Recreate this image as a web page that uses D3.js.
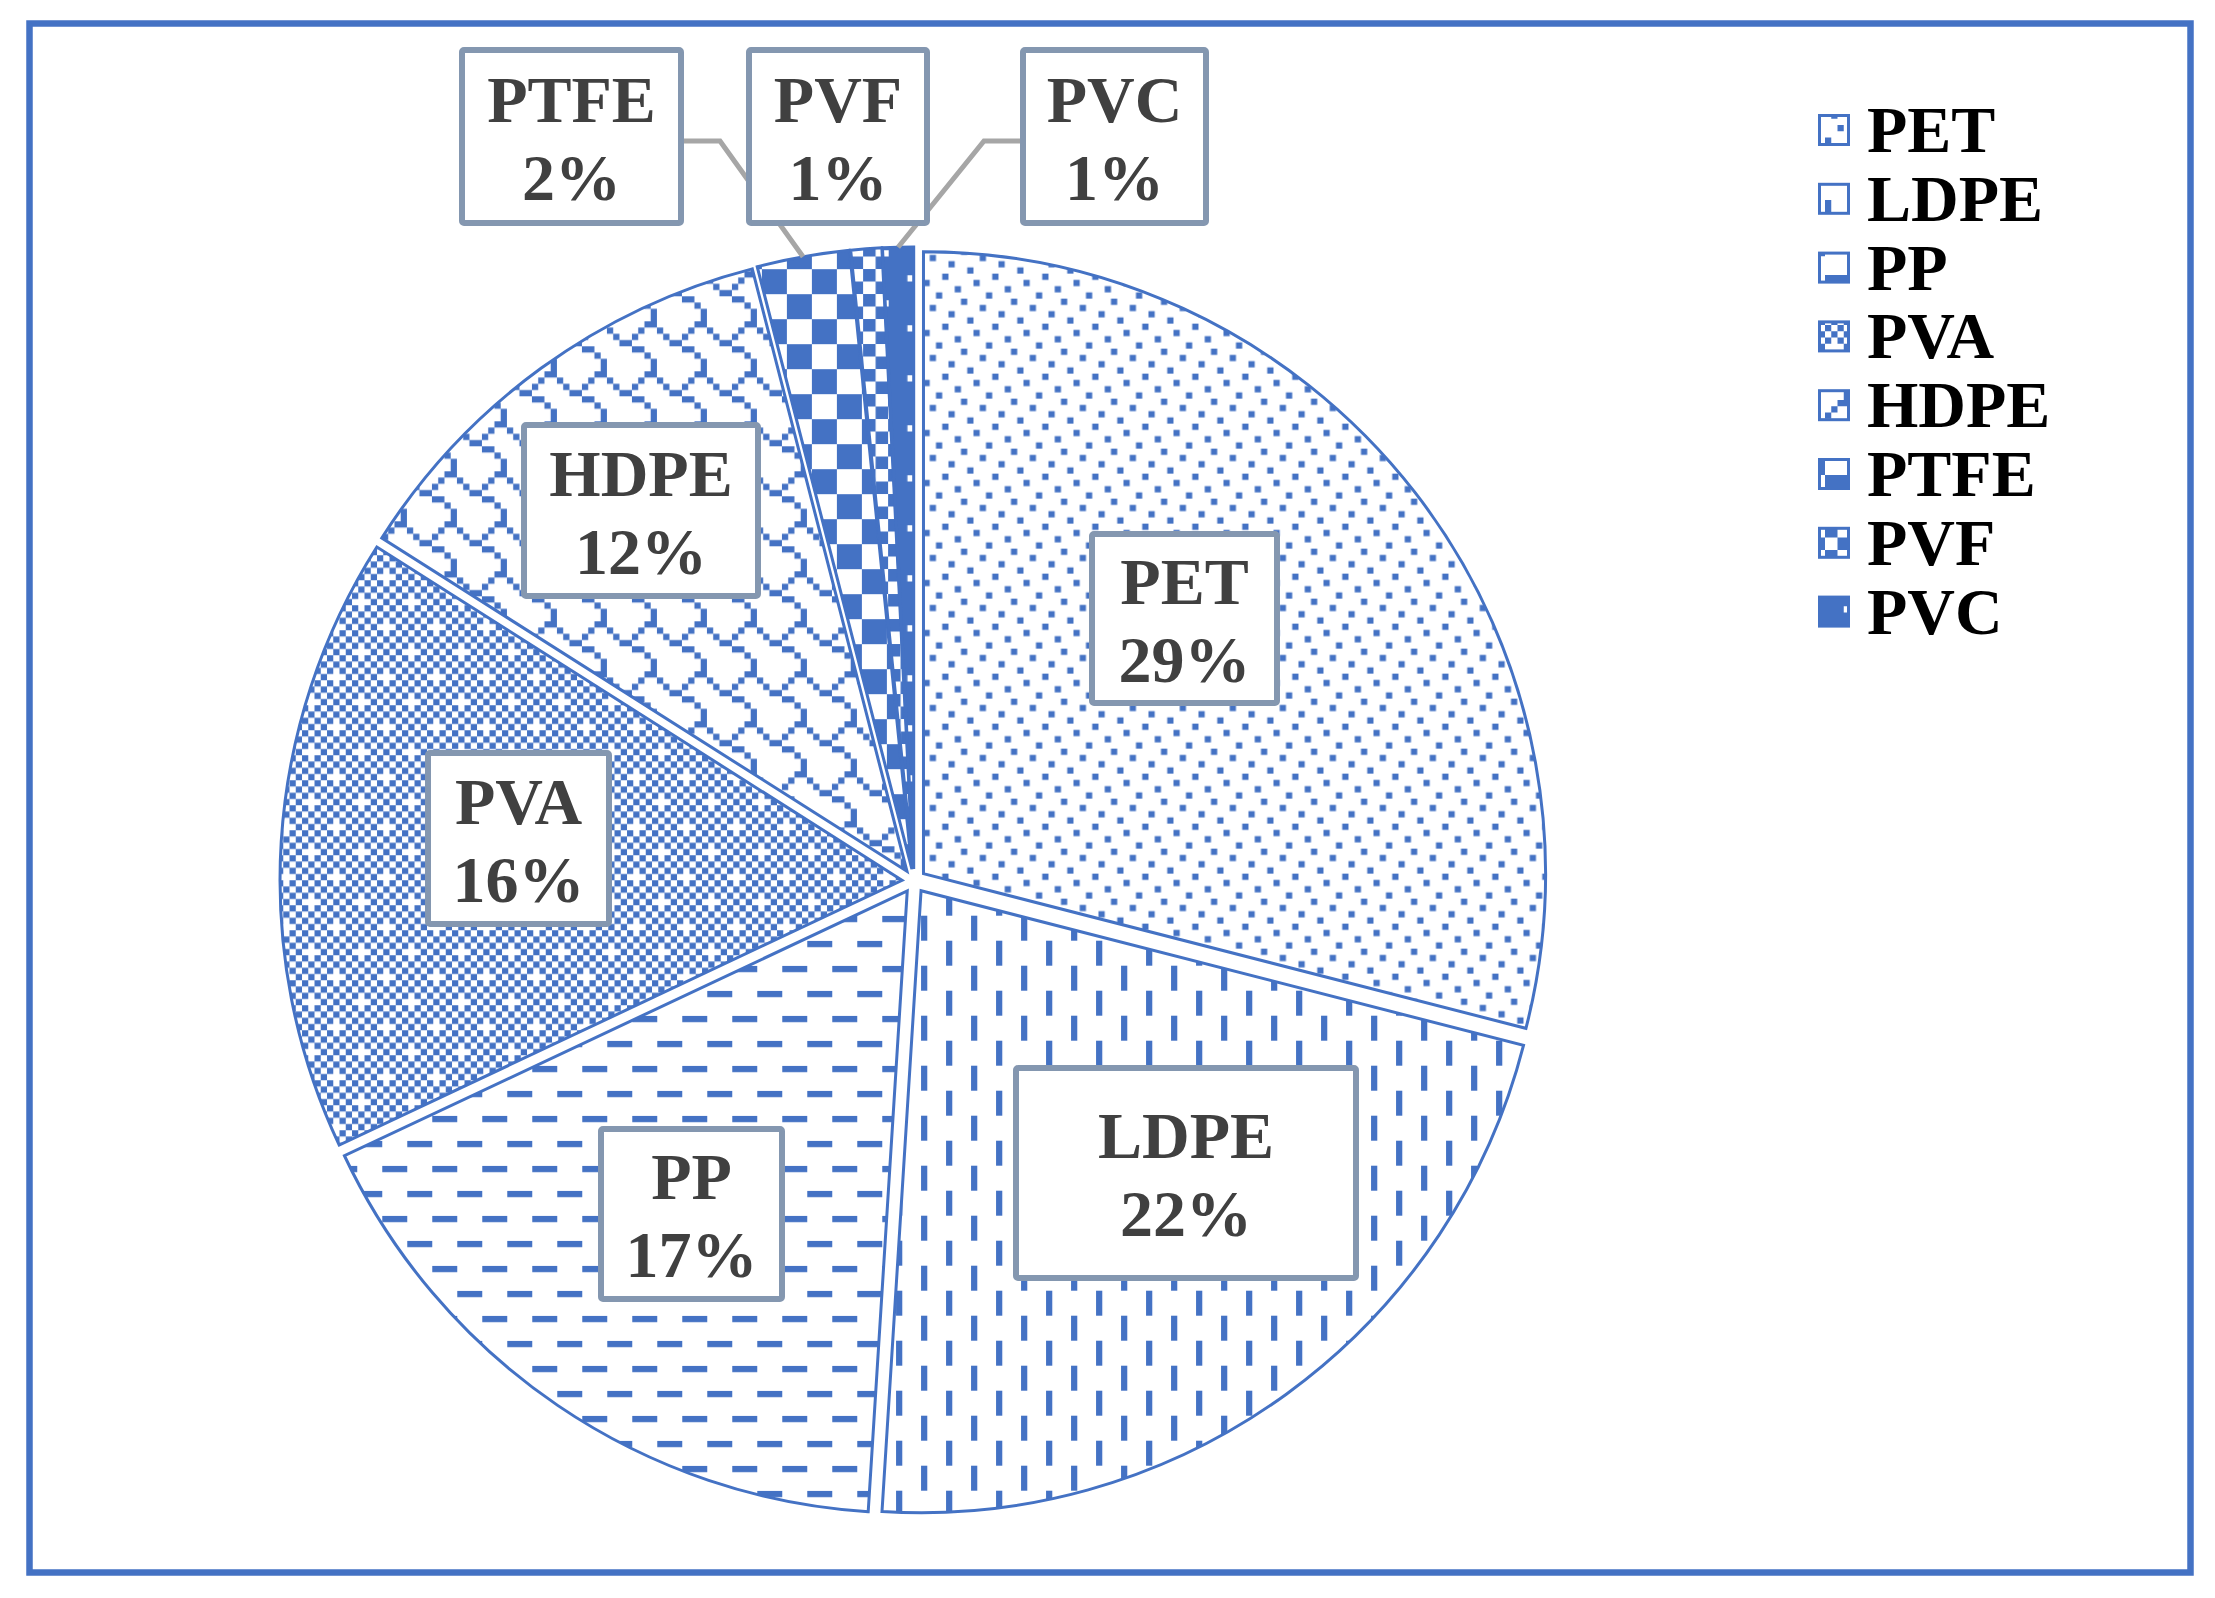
<!DOCTYPE html>
<html><head><meta charset="utf-8">
<script src="https://cdn.jsdelivr.net/npm/d3@7"></script>
<style>html,body{margin:0;padding:0;background:#fff}</style>
</head><body>
<svg id="chart" width="2215" height="1598"></svg>
<script>
// ---------- data ----------
const categories = ["PET", "LDPE", "PP", "PVA", "HDPE", "PTFE", "PVF", "PVC"];
const values = [29, 22, 17, 16, 12, 2.4, 0.8, 0.8];
const legendLabels = categories.slice();

// ---------- styles / layout ----------
const BLUE = "#4472C4";
const patternBits = {
  PET:  [0x10,0x80,0x04,0x20,0x02,0x40,0x08,0x01],
  LDPE: [0x08,0x08,0x08,0x08,0x80,0x80,0x80,0x80],
  PP:   [0xf0,0x00,0x00,0x00,0x0f,0x00,0x00,0x00],
  PVA:  [0xaa,0x55,0xaa,0x15,0xaa,0x55,0xaa,0x51],
  HDPE: [0x03,0x84,0x48,0x30,0x0c,0x02,0x01,0x01],
  PTFE: [0xf0,0xf0,0xf0,0xf0,0x0f,0x0f,0x0f,0x0f],
  PVF:  [0xcc,0xcc,0x33,0x33,0xcc,0xcc,0x33,0x33],
  PVC:  [0xff,0xfe,0xff,0xff,0xff,0xef,0xff,0xff]
};
const labelBoxes = {
  PET:  {x:1089, y:531,  w:191, h:175},
  LDPE: {x:1013, y:1065, w:346, h:216},
  PP:   {x:598,  y:1126, w:187, h:176},
  PVA:  {x:425,  y:750,  w:187, h:177},
  HDPE: {x:521,  y:422,  w:240, h:177},
  PTFE: {x:459,  y:47,   w:225, h:179},
  PVF:  {x:746,  y:47,   w:184, h:179},
  PVC:  {x:1020, y:47,   w:189, h:179}
};
const leaders = [
  {cat:"PTFE", side:"right", elbow:36, y:141},
  {cat:"PVC",  side:"left",  elbow:36, y:141}
];

const svg = d3.select("#chart");
const defs = svg.append("defs");
const PX = 6.25;

// build patterns: one path per pattern (no seams between pixels)
categories.forEach(c => {
  const bits = patternBits[c];
  let count = 0;
  bits.forEach(row => { for (let k = 0; k < 8; k++) if (row & (0x80 >> k)) count++; });
  const invert = count > 32;
  const bg = invert ? BLUE : "#fff";
  const fg = invert ? "#fff" : BLUE;
  const p = defs.append("pattern")
    .attr("id", "pat-" + c)
    .attr("patternUnits", "userSpaceOnUse")
    .attr("width", PX * 8).attr("height", PX * 8);
  p.append("rect").attr("width", PX * 8).attr("height", PX * 8).attr("fill", bg);
  let dstr = "";
  bits.forEach((row, r) => {
    for (let k = 0; k < 8; k++) {
      const on = !!(row & (0x80 >> k));
      if (on !== invert) {
        dstr += `M${k * PX},${r * PX}h${PX}v${PX}h${-PX}Z`;
      }
    }
  });
  if (dstr) p.append("path").attr("d", dstr).attr("fill", fg);
});

// frame
svg.append("rect")
  .attr("x", 29.5).attr("y", 23.5).attr("width", 2161).attr("height", 1549)
  .attr("fill", "#fff").attr("stroke", BLUE).attr("stroke-width", 6.5);

// pie
const cx = 914, cy = 881, R = 622, EXPLODE = 12;
const pie = d3.pie().sort(null).value(d => d.value).startAngle(0).endAngle(2 * Math.PI);
const arcs = pie(categories.map((c, i) => ({cat: c, value: values[i]})));
const arc = d3.arc().innerRadius(0).outerRadius(R);

const gPie = svg.append("g").attr("transform", `translate(${cx},${cy})`);
gPie.selectAll("path").data(arcs).join("path")
  .attr("d", arc)
  .attr("transform", d => {
    const m = (d.startAngle + d.endAngle) / 2;
    return `translate(${EXPLODE * Math.sin(m)},${-EXPLODE * Math.cos(m)})`;
  })
  .attr("fill", d => `url(#pat-${d.data.cat})`)
  .attr("stroke", BLUE).attr("stroke-width", 3).attr("stroke-linejoin", "miter");

// leader lines
const gLead = svg.append("g");
leaders.forEach(L => {
  const d = arcs.find(a => a.data.cat === L.cat);
  const m = (d.startAngle + d.endAngle) / 2;
  const px = cx + (R + EXPLODE) * Math.sin(m);
  const py = cy - (R + EXPLODE) * Math.cos(m);
  const b = labelBoxes[L.cat];
  const x0 = L.side === "right" ? b.x + b.w : b.x;
  const x1 = L.side === "right" ? x0 + L.elbow : x0 - L.elbow;
  gLead.append("path")
    .attr("d", d3.line()([[x0, L.y], [x1, L.y], [px, py]]))
    .attr("fill", "none").attr("stroke", "#A6A6A6").attr("stroke-width", 5);
});

// label boxes
const FONT = "'Liberation Serif','Times New Roman',serif";
const gLab = svg.append("g");
arcs.forEach(d => {
  const b = labelBoxes[d.data.cat];
  gLab.append("rect")
    .attr("x", b.x + 3).attr("y", b.y + 3).attr("width", b.w - 6).attr("height", b.h - 6)
    .attr("rx", 2)
    .attr("fill", "#fff").attr("stroke", "#8497B0").attr("stroke-width", 6);
  const mx = b.x + b.w / 2, my = b.y + b.h / 2;
  const t = gLab.append("text")
    .attr("text-anchor", "middle")
    .attr("font-family", FONT).attr("font-weight", "bold").attr("font-size", 66)
    .attr("fill", "#404040");
  t.append("tspan").attr("x", mx).attr("y", my - 15).text(d.data.cat);
  t.append("tspan").attr("x", mx).attr("y", my + 63).text(Math.round(d.data.value) + "%");
});

// legend
const gLeg = svg.append("g");
const legY0 = 130, legStep = 68.8, mx0 = 1818, mS = 32;
legendLabels.forEach((c, i) => {
  const yc = legY0 + i * legStep;
  gLeg.append("rect")
    .attr("x", mx0 + 1.5).attr("y", yc - mS / 2 + 1.5).attr("width", mS - 3).attr("height", mS - 3)
    .attr("fill", `url(#pat-${c})`).attr("stroke", BLUE).attr("stroke-width", 3);
  gLeg.append("text")
    .attr("x", 1867).attr("y", yc + 22)
    .attr("font-family", FONT).attr("font-weight", "bold").attr("font-size", 66)
    .attr("fill", "#000").text(c);
});
</script>
</body></html>
